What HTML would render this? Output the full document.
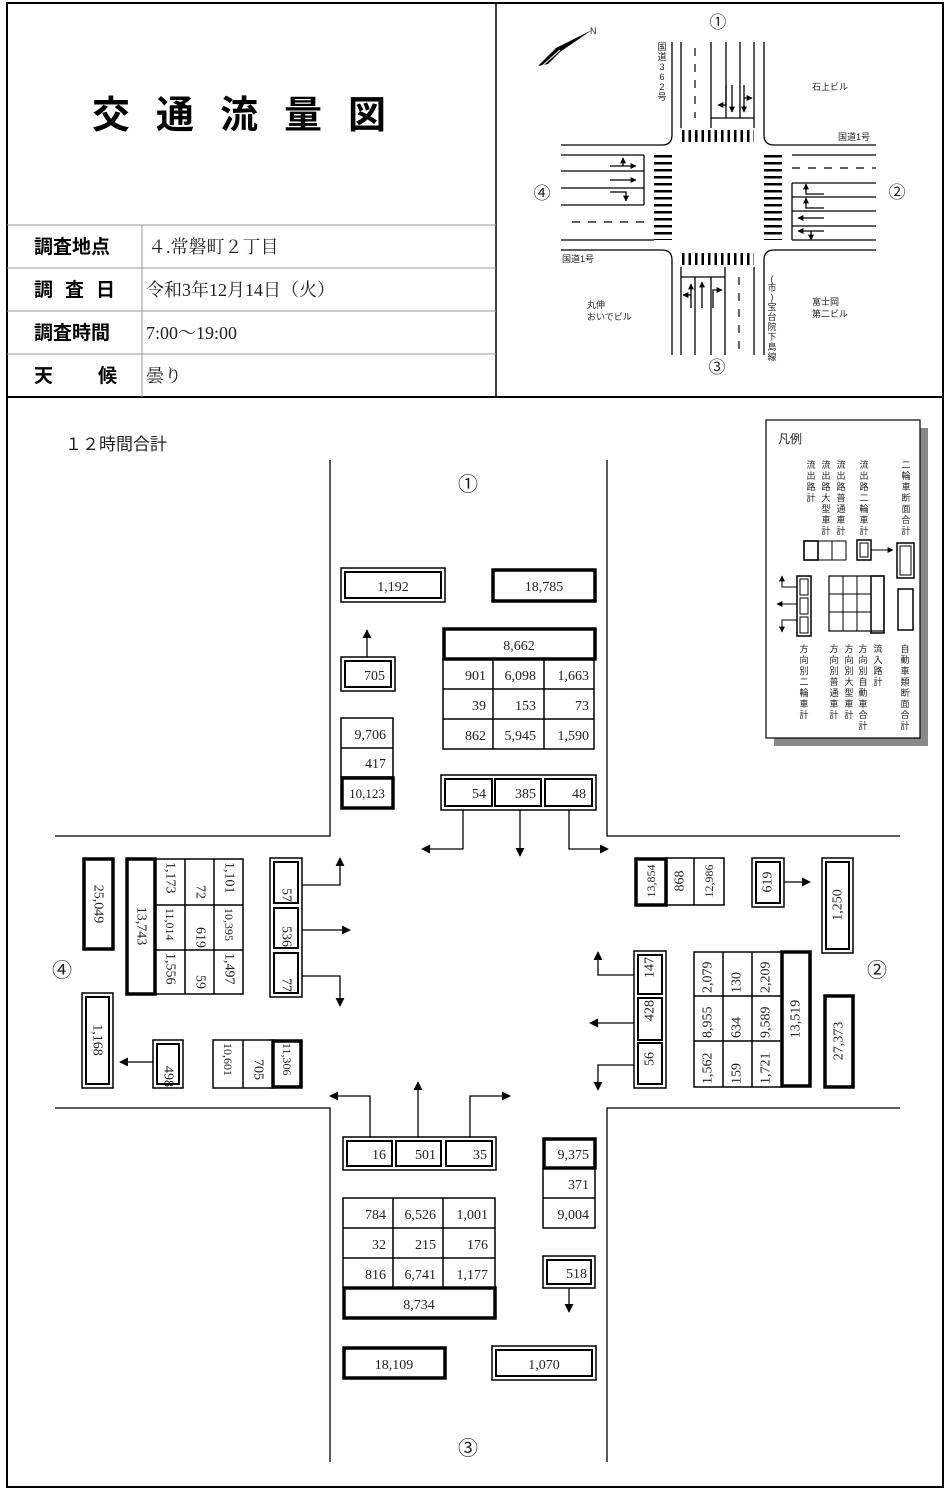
<!DOCTYPE html>
<html><head><meta charset="utf-8"><style>
html,body{margin:0;padding:0;background:#fff}
svg{display:block}
text{font-family:"Liberation Serif","Noto Serif CJK SC",serif;font-size:14px;fill:#222}
.g,.g text{font-family:"Liberation Sans","Noto Sans CJK JP",sans-serif}
.s9 text{font-size:9px}
.s17 text{font-size:17px}
.s20 text{font-size:20px}
.t{fill:none;stroke:#000;stroke-width:1.5}
.k{fill:none;stroke:#000;stroke-width:3.5}
.o{fill:none;stroke:#000;stroke-width:1.5}
.i{fill:none;stroke:#000;stroke-width:2}
.l{stroke:#000;stroke-width:1.3;fill:none}
</style></head><body>
<svg width="950" height="1490" viewBox="0 0 950 1490" xmlns="http://www.w3.org/2000/svg">
<defs>
<marker id="a" viewBox="0 0 10 10" refX="9" refY="5" markerWidth="9" markerHeight="9" markerUnits="userSpaceOnUse" orient="auto"><path d="M0,0L10,5L0,10z" fill="#000"/></marker>
<marker id="s" viewBox="0 0 10 10" refX="9" refY="5" markerWidth="6" markerHeight="6" markerUnits="userSpaceOnUse" orient="auto"><path d="M0,0L10,5L0,10z" fill="#000"/></marker>
</defs>
<rect x="7" y="3" width="936" height="1484" fill="none" stroke="#000" stroke-width="2"/>
<line x1="7" y1="397" x2="943" y2="397" stroke="#000" stroke-width="2"/>
<line x1="496" y1="3" x2="496" y2="397" stroke="#000" stroke-width="1.5"/>
<g class="g"><text x="252" y="128" text-anchor="middle" style="font-size:38px;font-weight:bold;letter-spacing:26px;fill:#000">交通流量図</text></g>
<g stroke="#999" stroke-width="1"><line x1="7" y1="225" x2="496" y2="225"/><line x1="7" y1="268" x2="496" y2="268"/><line x1="7" y1="311" x2="496" y2="311"/><line x1="7" y1="354" x2="496" y2="354"/><line x1="142" y1="225" x2="142" y2="397"/></g>
<g class="g"><text x="34" y="253" style="font-size:19px;font-weight:bold;fill:#000">調査地点</text><text x="34" y="296" style="font-size:19px;font-weight:bold;fill:#000;letter-spacing:12px">調査日</text><text x="34" y="339" style="font-size:19px;font-weight:bold;fill:#000">調査時間</text><text x="34" y="382" style="font-size:19px;font-weight:bold;fill:#000">天</text><text x="98" y="382" style="font-size:19px;font-weight:bold;fill:#000">候</text></g>
<text x="148" y="253" style="font-size:18px">４.常磐町２丁目</text>
<text x="146" y="296" style="font-size:18px">令和3年12月14日（火）</text>
<text x="146" y="339" style="font-size:18px">7:00〜19:00</text>
<text x="146" y="382" style="font-size:18px">曇り</text>

<!-- map -->
<g class="l" stroke-width="1.2">
<path d="M672,42V135q0,10 -10,10H561"/><path d="M764,42V135q0,10 10,10H876"/>
<path d="M672,355V260q0,-10 -10,-10H561"/><path d="M764,355V260q0,-10 10,-10H876"/>
<line x1="681" y1="42" x2="681" y2="128"/><line x1="711" y1="42" x2="711" y2="128"/><line x1="726" y1="42" x2="726" y2="118"/><line x1="740" y1="42" x2="740" y2="118"/><line x1="754" y1="42" x2="754" y2="128"/><line x1="711" y1="118" x2="754" y2="118"/>
<line x1="561" y1="155" x2="644" y2="155"/><line x1="561" y1="171" x2="644" y2="171"/><line x1="561" y1="188" x2="644" y2="188"/><line x1="561" y1="205" x2="644" y2="205"/><line x1="561" y1="240" x2="654" y2="240"/><line x1="644" y1="155" x2="644" y2="205"/>
<line x1="792" y1="155" x2="876" y2="155"/><line x1="792" y1="183" x2="876" y2="183"/><line x1="792" y1="197" x2="876" y2="197"/><line x1="792" y1="211" x2="876" y2="211"/><line x1="792" y1="226" x2="876" y2="226"/><line x1="792" y1="240" x2="876" y2="240"/><line x1="792" y1="183" x2="792" y2="240"/>
<line x1="681" y1="267" x2="681" y2="355"/><line x1="695" y1="277" x2="695" y2="355"/><line x1="711" y1="277" x2="711" y2="355"/><line x1="725" y1="267" x2="725" y2="355"/><line x1="754" y1="267" x2="754" y2="355"/><line x1="681" y1="277" x2="725" y2="277"/>
</g>
<g stroke="#000" stroke-width="1.2" stroke-dasharray="8,8"><line x1="695" y1="48" x2="695" y2="118"/><line x1="572" y1="222" x2="644" y2="222"/><line x1="792" y1="168" x2="876" y2="168"/><line x1="739" y1="277" x2="739" y2="350"/></g>
<g stroke="#000" stroke-width="12" stroke-dasharray="2.5,4"><line x1="682" y1="136" x2="754" y2="136"/><line x1="682" y1="259" x2="754" y2="259"/></g>
<g stroke="#000" stroke-width="18" stroke-dasharray="2.5,4.5"><line x1="663" y1="155" x2="663" y2="240"/><line x1="773" y1="155" x2="773" y2="240"/></g>
<g class="l" stroke-width="1.8"><path d="M726,85V105H718" marker-end="url(#s)"/><line x1="732" y1="85" x2="732" y2="112" marker-end="url(#s)"/><path d="M744,85V112" marker-end="url(#s)"/><line x1="744" y1="98" x2="752" y2="98" marker-end="url(#s)"/>
<line x1="610" y1="166" x2="636" y2="166" marker-end="url(#s)"/><line x1="623" y1="166" x2="623" y2="158" marker-end="url(#s)"/><line x1="610" y1="180" x2="636" y2="180" marker-end="url(#s)"/><path d="M610,192H626V201" marker-end="url(#s)"/>
<path d="M824,194H806V184" marker-end="url(#s)"/><path d="M824,208H806V198" marker-end="url(#s)"/><line x1="824" y1="218" x2="798" y2="218" marker-end="url(#s)"/><line x1="824" y1="231" x2="798" y2="231" marker-end="url(#s)"/><line x1="811" y1="231" x2="811" y2="240" marker-end="url(#s)"/>
<path d="M691,308V284" marker-end="url(#s)"/><line x1="691" y1="295" x2="683" y2="295" marker-end="url(#s)"/><line x1="702" y1="308" x2="702" y2="282" marker-end="url(#s)"/><path d="M713,308V290H722" marker-end="url(#s)"/></g>
<path d="M538,66L556,48L592,30L560,52L548,64z" fill="#000"/><path d="M542,66L560,50" stroke="#fff" stroke-width="1"/>
<g class="g s9"><text x="590" y="34">N</text><text x="812" y="90">石上ビル</text><text x="838" y="140">国道1号</text><text x="562" y="262">国道1号</text><text x="587" y="308">丸伸</text><text x="587" y="320">おいでビル</text><text x="812" y="305">富士岡</text><text x="812" y="317">第二ビル</text></g>
<g class="g s9" text-anchor="middle"><text x="662" y="50">国</text><text x="662" y="60">道</text><text x="662" y="70">3</text><text x="662" y="80">6</text><text x="662" y="90">2</text><text x="662" y="100">号</text>
<text x="772" y="282">(</text><text x="772" y="291">市</text><text x="772" y="300">)</text><text x="772" y="310">宝</text><text x="772" y="320">台</text><text x="772" y="330">院</text><text x="772" y="340">下</text><text x="772" y="350">島</text><text x="772" y="360">線</text></g>
<g class="g s17" text-anchor="middle"><text x="718" y="28">①</text><text x="897" y="198">②</text><text x="717" y="373">③</text><text x="542" y="199">④</text></g>

<!-- main -->
<g class="g"><text x="65" y="450" style="font-size:17px">１２時間合計</text></g>
<g class="l" stroke-width="1.5">
<path d="M330,460V836H55"/><path d="M607,460V836H900"/><path d="M55,1108H330V1462"/><path d="M900,1108H607V1462"/>
</g>
<g class="g s20" text-anchor="middle"><text x="468" y="491">①</text><text x="877" y="977">②</text><text x="468" y="1455">③</text><text x="62" y="977">④</text></g>

<!-- top -->
<rect x="341" y="568" width="104" height="34" class="o"/><rect x="345" y="572" width="96" height="26" class="i"/><text x="393" y="591" text-anchor="middle">1,192</text>
<rect x="493" y="570" width="102" height="31" class="k"/><text x="544" y="591" text-anchor="middle">18,785</text>
<rect x="444" y="629" width="151" height="30" class="k"/><text x="519" y="650" text-anchor="middle">8,662</text>
<g class="t"><rect x="443" y="659" width="151" height="90"/><line x1="493" y1="659" x2="493" y2="749"/><line x1="544" y1="659" x2="544" y2="749"/><line x1="443" y1="689" x2="594" y2="689"/><line x1="443" y1="719" x2="594" y2="719"/></g>
<g text-anchor="end"><text x="486" y="680">901</text><text x="536" y="680">6,098</text><text x="589" y="680">1,663</text><text x="486" y="710">39</text><text x="536" y="710">153</text><text x="589" y="710">73</text><text x="486" y="740">862</text><text x="536" y="740">5,945</text><text x="589" y="740">1,590</text></g>
<rect x="341" y="657" width="54" height="34" class="o"/><rect x="345" y="661" width="46" height="26" class="i"/><text x="385" y="680" text-anchor="end">705</text>
<line x1="367" y1="657" x2="367" y2="630" class="l" marker-end="url(#a)"/>
<g class="t"><rect x="341" y="718" width="52" height="59"/><line x1="341" y1="748" x2="393" y2="748"/></g>
<rect x="342" y="778" width="51" height="30" class="k"/>
<text x="386" y="739" text-anchor="end">9,706</text><text x="386" y="768" text-anchor="end">417</text><text x="367" y="798" text-anchor="middle" style="font-size:13px">10,123</text>
<rect x="441" y="775" width="155" height="35" class="o"/><g class="i"><rect x="445" y="779" width="47" height="27"/><rect x="495" y="779" width="46" height="27"/><rect x="545" y="779" width="47" height="27"/></g>
<text x="486" y="798" text-anchor="end">54</text><text x="536" y="798" text-anchor="end">385</text><text x="586" y="798" text-anchor="end">48</text>
<path d="M463,810V849H422" class="l" marker-end="url(#a)"/><line x1="520" y1="810" x2="520" y2="856" class="l" marker-end="url(#a)"/><path d="M569,810V849H608" class="l" marker-end="url(#a)"/>

<!-- left ④ -->
<rect x="84" y="859" width="29" height="90" class="k"/><text transform="translate(98,904) rotate(90)" text-anchor="middle" dominant-baseline="central">25,049</text>
<rect x="127" y="859" width="28" height="135" class="k"/><text transform="translate(141,926) rotate(90)" text-anchor="middle" dominant-baseline="central">13,743</text>
<g class="t"><rect x="155" y="859" width="88" height="135"/><line x1="185" y1="859" x2="185" y2="994"/><line x1="214" y1="859" x2="214" y2="994"/><line x1="155" y1="905" x2="243" y2="905"/><line x1="155" y1="950" x2="243" y2="950"/></g>
<g text-anchor="start" dominant-baseline="central"><text transform="translate(170,862) rotate(90)">1,173</text><text transform="translate(200,885) rotate(90)">72</text><text transform="translate(229,862) rotate(90)">1,101</text>
<text transform="translate(170,908) rotate(90)" style="font-size:12px">11,014</text><text transform="translate(200,927) rotate(90)">619</text><text transform="translate(229,908) rotate(90)" style="font-size:12px">10,395</text>
<text transform="translate(170,953) rotate(90)">1,556</text><text transform="translate(200,975) rotate(90)">59</text><text transform="translate(229,953) rotate(90)">1,497</text></g>
<rect x="270" y="858" width="32" height="139" class="o"/><g class="i"><rect x="274" y="862" width="24" height="41"/><rect x="274" y="908" width="24" height="40"/><rect x="274" y="953" width="24" height="40"/></g>
<g text-anchor="end" dominant-baseline="central"><text transform="translate(286,902) rotate(90)">57</text><text transform="translate(286,947) rotate(90)">536</text><text transform="translate(286,992) rotate(90)">77</text></g>
<path d="M302,885H340V858" class="l" marker-end="url(#a)"/><line x1="302" y1="930" x2="350" y2="930" class="l" marker-end="url(#a)"/><path d="M302,976H340V1006" class="l" marker-end="url(#a)"/>
<rect x="82" y="993" width="31" height="95" class="o"/><rect x="86" y="997" width="23" height="87" class="i"/><text transform="translate(97,1040) rotate(90)" text-anchor="middle" dominant-baseline="central">1,168</text>
<rect x="153" y="1040" width="30" height="48" class="o"/><rect x="157" y="1044" width="22" height="40" class="i"/><text transform="translate(168,1087) rotate(90)" text-anchor="end" dominant-baseline="central">498</text>
<line x1="153" y1="1062" x2="120" y2="1062" class="l" marker-end="url(#a)"/>
<g class="t"><rect x="213" y="1040" width="60" height="48"/><line x1="243" y1="1040" x2="243" y2="1088"/></g><rect x="273" y="1041" width="28" height="46" class="k"/>
<g dominant-baseline="central"><text transform="translate(228,1043) rotate(90)" style="font-size:12px">10,601</text><text transform="translate(258,1059) rotate(90)">705</text><text transform="translate(287,1043) rotate(90)" style="font-size:12px">11,306</text></g>

<!-- right ② -->
<rect x="636" y="859" width="30" height="46" class="k"/><g class="t"><rect x="666" y="858" width="58" height="47"/><line x1="694" y1="858" x2="694" y2="905"/></g>
<g text-anchor="middle" dominant-baseline="central"><text transform="translate(651,881) rotate(-90)" style="font-size:12px">13,854</text><text transform="translate(680,881) rotate(-90)">868</text><text transform="translate(709,881) rotate(-90)" style="font-size:12px">12,986</text></g>
<rect x="752" y="858" width="32" height="49" class="o"/><rect x="756" y="862" width="24" height="41" class="i"/><text transform="translate(768,882) rotate(-90)" text-anchor="middle" dominant-baseline="central">619</text>
<line x1="784" y1="882" x2="810" y2="882" class="l" marker-end="url(#a)"/>
<rect x="822" y="858" width="31" height="95" class="o"/><rect x="826" y="862" width="23" height="87" class="i"/><text transform="translate(838,905) rotate(-90)" text-anchor="middle" dominant-baseline="central">1,250</text>
<rect x="634" y="951" width="32" height="137" class="o"/><g class="i"><rect x="638" y="955" width="24" height="39"/><rect x="638" y="998" width="24" height="42"/><rect x="638" y="1043" width="24" height="41"/></g>
<g text-anchor="start" dominant-baseline="central"><text transform="translate(650,978) rotate(-90)">147</text><text transform="translate(650,1021) rotate(-90)">428</text><text transform="translate(650,1066) rotate(-90)">56</text></g>
<path d="M634,975H598V952" class="l" marker-end="url(#a)"/><line x1="634" y1="1023" x2="590" y2="1023" class="l" marker-end="url(#a)"/><path d="M634,1065H598V1090" class="l" marker-end="url(#a)"/>
<g class="t"><rect x="694" y="952" width="88" height="135"/><line x1="723" y1="952" x2="723" y2="1087"/><line x1="752" y1="952" x2="752" y2="1087"/><line x1="694" y1="996" x2="782" y2="996"/><line x1="694" y1="1041" x2="782" y2="1041"/></g>
<rect x="782" y="952" width="28" height="134" class="k"/><text transform="translate(796,1019) rotate(-90)" text-anchor="middle" dominant-baseline="central">13,519</text>
<g text-anchor="start" dominant-baseline="central"><text transform="translate(708,993) rotate(-90)">2,079</text><text transform="translate(737,993) rotate(-90)">130</text><text transform="translate(766,993) rotate(-90)">2,209</text>
<text transform="translate(708,1038) rotate(-90)">8,955</text><text transform="translate(737,1038) rotate(-90)">634</text><text transform="translate(766,1038) rotate(-90)">9,589</text>
<text transform="translate(708,1084) rotate(-90)">1,562</text><text transform="translate(737,1084) rotate(-90)">159</text><text transform="translate(766,1084) rotate(-90)">1,721</text></g>
<rect x="825" y="996" width="28" height="91" class="k"/><text transform="translate(839,1041) rotate(-90)" text-anchor="middle" dominant-baseline="central">27,373</text>

<!-- bottom ③ -->
<rect x="343" y="1137" width="153" height="33" class="o"/><g class="i"><rect x="347" y="1141" width="45" height="25"/><rect x="396" y="1141" width="45" height="25"/><rect x="446" y="1141" width="46" height="25"/></g>
<text x="386" y="1159" text-anchor="end">16</text><text x="436" y="1159" text-anchor="end">501</text><text x="487" y="1159" text-anchor="end">35</text>
<path d="M370,1137V1096H330" class="l" marker-end="url(#a)"/><line x1="418" y1="1137" x2="418" y2="1082" class="l" marker-end="url(#a)"/><path d="M470,1137V1096H510" class="l" marker-end="url(#a)"/>
<g class="t"><rect x="343" y="1198" width="152" height="90"/><line x1="393" y1="1198" x2="393" y2="1288"/><line x1="443" y1="1198" x2="443" y2="1288"/><line x1="343" y1="1228" x2="495" y2="1228"/><line x1="343" y1="1258" x2="495" y2="1258"/></g>
<g text-anchor="end"><text x="386" y="1219">784</text><text x="436" y="1219">6,526</text><text x="488" y="1219">1,001</text><text x="386" y="1249">32</text><text x="436" y="1249">215</text><text x="488" y="1249">176</text><text x="386" y="1279">816</text><text x="436" y="1279">6,741</text><text x="488" y="1279">1,177</text></g>
<rect x="344" y="1288" width="151" height="30" class="k"/><text x="419" y="1309" text-anchor="middle">8,734</text>
<rect x="544" y="1139" width="51" height="29" class="k"/><g class="t"><rect x="543" y="1168" width="52" height="60"/><line x1="543" y1="1198" x2="595" y2="1198"/></g>
<text x="589" y="1159" text-anchor="end">9,375</text><text x="589" y="1189" text-anchor="end">371</text><text x="589" y="1219" text-anchor="end">9,004</text>
<rect x="543" y="1256" width="52" height="32" class="o"/><rect x="547" y="1260" width="44" height="24" class="i"/><text x="587" y="1278" text-anchor="end">518</text>
<line x1="569" y1="1288" x2="569" y2="1312" class="l" marker-end="url(#a)"/>
<rect x="344" y="1348" width="101" height="30" class="k"/><text x="394" y="1369" text-anchor="middle">18,109</text>
<rect x="492" y="1346" width="104" height="34" class="o"/><rect x="496" y="1350" width="96" height="26" class="i"/><text x="544" y="1369" text-anchor="middle">1,070</text>

<!-- legend -->
<rect x="774" y="428" width="154" height="318" fill="#888"/>
<rect x="766" y="420" width="154" height="318" fill="#fff" stroke="#000" stroke-width="1.2"/>
<g class="g"><text x="778" y="443" style="font-size:12px">凡例</text></g>
<g class="g s9" text-anchor="middle">
<text x="811" y="468">流</text><text x="811" y="479">出</text><text x="811" y="490">路</text><text x="811" y="501">計</text>
<text x="826" y="468">流</text><text x="826" y="479">出</text><text x="826" y="490">路</text><text x="826" y="501">大</text><text x="826" y="512">型</text><text x="826" y="523">車</text><text x="826" y="534">計</text>
<text x="841" y="468">流</text><text x="841" y="479">出</text><text x="841" y="490">路</text><text x="841" y="501">普</text><text x="841" y="512">通</text><text x="841" y="523">車</text><text x="841" y="534">計</text>
<text x="864" y="468">流</text><text x="864" y="479">出</text><text x="864" y="490">路</text><text x="864" y="501">二</text><text x="864" y="512">輪</text><text x="864" y="523">車</text><text x="864" y="534">計</text>
<text x="906" y="468">二</text><text x="906" y="479">輪</text><text x="906" y="490">車</text><text x="906" y="501">断</text><text x="906" y="512">面</text><text x="906" y="523">合</text><text x="906" y="534">計</text>
<text x="804" y="652">方</text><text x="804" y="663">向</text><text x="804" y="674">別</text><text x="804" y="685">二</text><text x="804" y="696">輪</text><text x="804" y="707">車</text><text x="804" y="718">計</text>
<text x="834" y="652">方</text><text x="834" y="663">向</text><text x="834" y="674">別</text><text x="834" y="685">普</text><text x="834" y="696">通</text><text x="834" y="707">車</text><text x="834" y="718">計</text>
<text x="849" y="652">方</text><text x="849" y="663">向</text><text x="849" y="674">別</text><text x="849" y="685">大</text><text x="849" y="696">型</text><text x="849" y="707">車</text><text x="849" y="718">計</text>
<text x="863" y="652">方</text><text x="863" y="663">向</text><text x="863" y="674">別</text><text x="863" y="685">自</text><text x="863" y="696">動</text><text x="863" y="707">車</text><text x="863" y="718">合</text><text x="863" y="729">計</text>
<text x="878" y="652">流</text><text x="878" y="663">入</text><text x="878" y="674">路</text><text x="878" y="685">計</text>
<text x="905" y="652">自</text><text x="905" y="663">動</text><text x="905" y="674">車</text><text x="905" y="685">類</text><text x="905" y="696">断</text><text x="905" y="707">面</text><text x="905" y="718">合</text><text x="905" y="729">計</text>
</g>
<g stroke="#000" fill="none" stroke-width="1"><rect x="804" y="541" width="42" height="19"/><line x1="818" y1="541" x2="818" y2="560"/><line x1="832" y1="541" x2="832" y2="560"/><rect x="804" y="541" width="14" height="19" stroke-width="1.6"/>
<rect x="857" y="540" width="14" height="20" stroke-width="1.5"/><rect x="860" y="543" width="8" height="14"/>
<rect x="897" y="543" width="17" height="35" stroke-width="1.5"/><rect x="900" y="546" width="11" height="29"/>
<rect x="898" y="589" width="15" height="41" stroke-width="1.5"/>
<rect x="797" y="576" width="14" height="60" stroke-width="1.5"/><rect x="800" y="579" width="8" height="16"/><rect x="800" y="598" width="8" height="16"/><rect x="800" y="617" width="8" height="16"/>
<rect x="829" y="576" width="55" height="55" stroke-width="1.2"/><line x1="843" y1="576" x2="843" y2="631"/><line x1="857" y1="576" x2="857" y2="631"/><line x1="871" y1="576" x2="871" y2="633"/><line x1="829" y1="594" x2="871" y2="594"/><line x1="829" y1="612" x2="871" y2="612"/><rect x="871" y="576" width="13" height="57" stroke-width="1.5"/>
</g>
<line x1="871" y1="550" x2="893" y2="550" stroke="#000" stroke-width="1" marker-end="url(#s)"/>
<path d="M797,587H782V576" stroke="#000" stroke-width="1" fill="none" marker-end="url(#s)"/>
<line x1="797" y1="604" x2="777" y2="604" stroke="#000" stroke-width="1" marker-end="url(#s)"/>
<path d="M797,620H782V632" stroke="#000" stroke-width="1" fill="none" marker-end="url(#s)"/>
</svg>
</body></html>
